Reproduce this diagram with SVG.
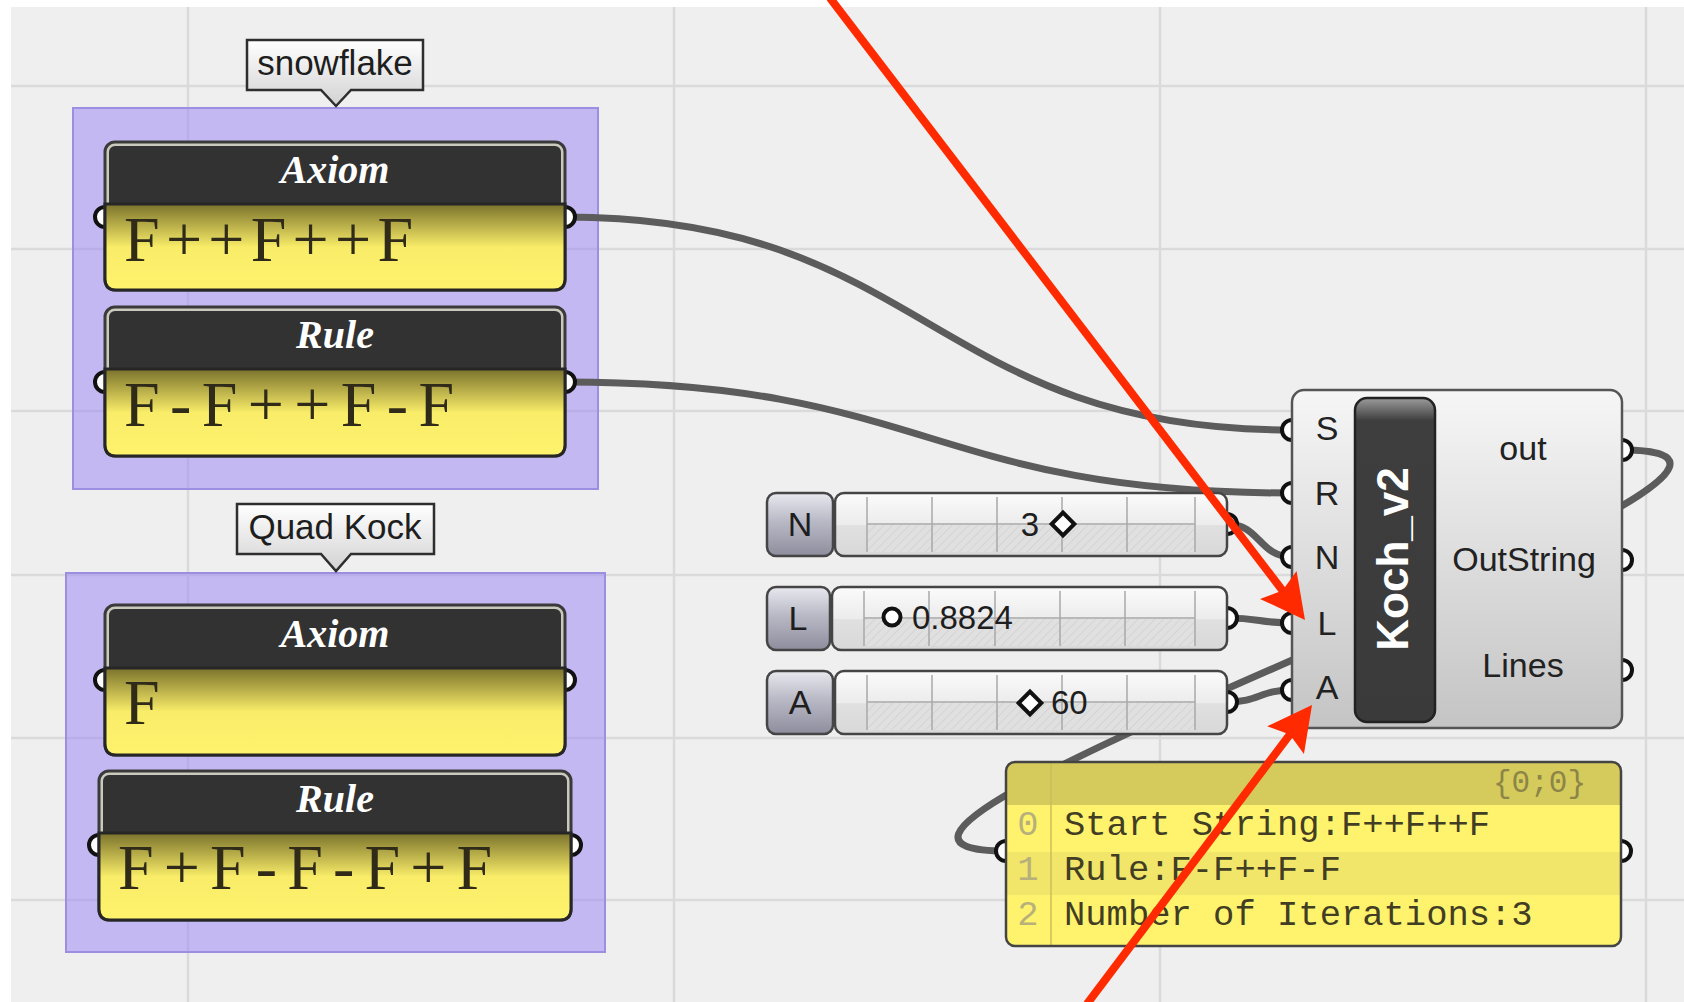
<svg xmlns="http://www.w3.org/2000/svg" width="1684" height="1002" viewBox="0 0 1684 1002">
<defs>
<style>
.grid{stroke:#dadada;stroke-width:2.5}
.wire{fill:none;stroke:#5c5c5c;stroke-width:7;stroke-linecap:round}
.grip{fill:#ffffff;stroke:#111111;stroke-width:4}
.red{fill:none;stroke:#ff2a00;stroke-width:8}
.sans{font-family:"Liberation Sans",Arial,sans-serif}
.serif{font-family:"Liberation Serif","Times New Roman",serif}
.mono{font-family:"Liberation Mono","Courier New",monospace}
.grp{fill:#a18bf6;fill-opacity:0.55;stroke:#9c8ee0;stroke-width:2}
.callout{fill:url(#calloutGrad);stroke:#2e2e2e;stroke-width:2.5}
.callout-t{font-size:35px;fill:#1e1e1e;text-anchor:middle}
.pframe{fill:#c9c9bd;stroke:#3a3a3a;stroke-width:3}
.phead{fill:#323232}
.pbody{fill:url(#yellowGrad);stroke:#262626;stroke-width:3}
.ptitle{font-size:40px;font-weight:bold;font-style:italic;fill:#ffffff;text-anchor:middle}
.pval{font-size:64px;fill:#2f2b18}
.slabel{fill:url(#labelGrad);stroke:#454545;stroke-width:2.5}
.strack{fill:url(#trackGrad);stroke:#454545;stroke-width:2.5}
.stick{stroke:#a8a8a8;stroke-width:1.5}
.sletter{font-size:34px;fill:#1e1e1e;text-anchor:middle}
.sval{font-size:33px;fill:#1e1e1e}
.knob{fill:#ffffff;stroke:#111111;stroke-width:4}
.cin{font-size:34px;fill:#222222;text-anchor:middle}
.cout{font-size:34px;fill:#222222;text-anchor:middle}
.prow{font-size:35.5px;fill:#423e24}
.pidx{font-size:35.5px;fill:#b7b07a;text-anchor:middle}
</style>
<linearGradient id="calloutGrad" x1="0" y1="0" x2="0" y2="1"><stop offset="0" stop-color="#ffffff"/><stop offset="1" stop-color="#d2d2d2"/></linearGradient>
<linearGradient id="yellowGrad" x1="0" y1="0" x2="0" y2="1"><stop offset="0" stop-color="#7a722c"/><stop offset="0.5" stop-color="#f8ec68"/><stop offset="1" stop-color="#fff36e"/></linearGradient>
<linearGradient id="labelGrad" x1="0" y1="0" x2="0" y2="1"><stop offset="0" stop-color="#e8e8ef"/><stop offset="0.45" stop-color="#b9b9c6"/><stop offset="1" stop-color="#8d8d9d"/></linearGradient>
<linearGradient id="trackGrad" x1="0" y1="0" x2="0" y2="1"><stop offset="0" stop-color="#fbfbfb"/><stop offset="0.5" stop-color="#ececec"/><stop offset="0.52" stop-color="#e0e0e0"/><stop offset="1" stop-color="#d8d8d8"/></linearGradient>
<linearGradient id="compGrad" x1="0" y1="0" x2="0" y2="1"><stop offset="0" stop-color="#f6f6f6"/><stop offset="1" stop-color="#c4c4c4"/></linearGradient>
<linearGradient id="capGrad" x1="0" y1="0" x2="0" y2="1"><stop offset="0" stop-color="#9c9c9c"/><stop offset="0.07" stop-color="#3e3e3e"/><stop offset="1" stop-color="#3a3a3a"/></linearGradient>
<pattern id="hatch" width="6" height="6" patternUnits="userSpaceOnUse" patternTransform="rotate(45)"><rect width="6" height="6" fill="#e0e0e0"/><line x1="0" y1="0" x2="0" y2="6" stroke="#d4d4d4" stroke-width="2"/></pattern>
<clipPath id="outPanelClip"><rect x="1006" y="762" width="615" height="184" rx="9"/></clipPath>
<marker id="redHead" markerUnits="userSpaceOnUse" markerWidth="50" markerHeight="50" viewBox="0 0 50 50" refX="36" refY="25" orient="auto"><path d="M48,25 L4,2 L11,25 L4,48 Z" fill="#ff2a00"/></marker>
</defs>

<rect width="1684" height="1002" fill="#ffffff"/>
<rect x="11" y="7" width="1673" height="995" fill="#efefef"/>
<g id="grid">
<line class="grid" x1="188" y1="7" x2="188" y2="1002"/>
<line class="grid" x1="674" y1="7" x2="674" y2="1002"/>
<line class="grid" x1="1160" y1="7" x2="1160" y2="1002"/>
<line class="grid" x1="1646" y1="7" x2="1646" y2="1002"/>
<line class="grid" x1="11" y1="86" x2="1684" y2="86"/>
<line class="grid" x1="11" y1="249" x2="1684" y2="249"/>
<line class="grid" x1="11" y1="411" x2="1684" y2="411"/>
<line class="grid" x1="11" y1="575" x2="1684" y2="575"/>
<line class="grid" x1="11" y1="738" x2="1684" y2="738"/>
<line class="grid" x1="11" y1="900" x2="1684" y2="900"/>
</g>

<g id="group-snowflake"><rect class="grp" x="73" y="108" width="525" height="381"/></g>
<g id="group-quadkock"><rect class="grp" x="66" y="573" width="539" height="379"/></g>

<g id="connectors">
<path class="wire" d="M565,217 C928,217 929,430 1292,430"/>
<path class="wire" d="M565,382 C928,382 929,493 1292,493"/>
<path class="wire" d="M1227,524 C1260,524 1259,557 1292,557"/>
<path class="wire" d="M1227,618 C1260,618 1259,623 1292,623"/>
<path class="wire" d="M1227,702 C1260,702 1259,690 1292,690"/>
<path class="wire" d="M1622,450 C1922,450 706,851 1006,851"/>
</g>

<g id="callout-snowflake">
<path class="callout" d="M247,40 H423 V90 H351 L336,106 L321,90 H247 Z"/>
<text class="sans callout-t" x="335" y="75">snowflake</text>
</g>
<g id="callout-quadkock">
<path class="callout" d="M237,504 H434 V554 H351 L336,571 L321,554 H237 Z"/>
<text class="sans callout-t" x="335" y="539">Quad Kock</text>
</g>

<g id="axiom-1">
<circle class="grip" cx="105" cy="217" r="10"/><circle class="grip" cx="565" cy="217" r="10"/>
<rect class="pframe" x="105" y="142" width="460" height="148" rx="10"/>
<rect class="phead" x="109" y="146" width="452" height="62" rx="6"/>
<path class="pbody" d="M105,204 H565 V279 Q565,290 554,290 H116 Q105,290 105,279 Z"/>
<text class="serif ptitle" x="335" y="183">Axiom</text>
<text class="serif pval" x="124" y="261" textLength="289" lengthAdjust="spacing">F++F++F</text>
</g>
<g id="rule-1">
<circle class="grip" cx="105" cy="382" r="10"/><circle class="grip" cx="565" cy="382" r="10"/>
<rect class="pframe" x="105" y="307" width="460" height="149" rx="10"/>
<rect class="phead" x="109" y="311" width="452" height="62" rx="6"/>
<path class="pbody" d="M105,369 H565 V445 Q565,456 554,456 H116 Q105,456 105,445 Z"/>
<text class="serif ptitle" x="335" y="348">Rule</text>
<text class="serif pval" x="124" y="426" textLength="330" lengthAdjust="spacing">F-F++F-F</text>
</g>
<g id="axiom-2">
<circle class="grip" cx="105" cy="680" r="10"/><circle class="grip" cx="565" cy="680" r="10"/>
<rect class="pframe" x="105" y="605" width="460" height="150" rx="10"/>
<rect class="phead" x="109" y="609" width="452" height="63" rx="6"/>
<path class="pbody" d="M105,668 H565 V744 Q565,755 554,755 H116 Q105,755 105,744 Z"/>
<text class="serif ptitle" x="335" y="647">Axiom</text>
<text class="serif pval" x="124" y="724">F</text>
</g>
<g id="rule-2">
<circle class="grip" cx="99" cy="845" r="10"/><circle class="grip" cx="571" cy="845" r="10"/>
<rect class="pframe" x="99" y="771" width="472" height="149" rx="10"/>
<rect class="phead" x="103" y="775" width="464" height="62" rx="6"/>
<path class="pbody" d="M99,833 H571 V909 Q571,920 560,920 H110 Q99,920 99,909 Z"/>
<text class="serif ptitle" x="335" y="812">Rule</text>
<text class="serif pval" x="118" y="889" textLength="374" lengthAdjust="spacing">F+F-F-F+F</text>
</g>

<g id="slider-n">
<circle class="grip" cx="1227" cy="524" r="10"/>
<rect class="strack" x="835" y="493" width="392" height="63" rx="9"/>
<rect x="867" y="525" width="328" height="27" fill="url(#hatch)"/>
<line class="stick" x1="867" y1="524" x2="1195" y2="524"/>
<line class="stick" x1="867" y1="497" x2="867" y2="552"/><line class="stick" x1="932" y1="497" x2="932" y2="552"/><line class="stick" x1="997" y1="497" x2="997" y2="552"/><line class="stick" x1="1062" y1="497" x2="1062" y2="552"/><line class="stick" x1="1127" y1="497" x2="1127" y2="552"/><line class="stick" x1="1195" y1="497" x2="1195" y2="552"/>
<rect class="slabel" x="767" y="493" width="66" height="63" rx="9"/>
<text class="sans sletter" x="800" y="536">N</text>
<text class="sans sval" x="1030" y="536" text-anchor="middle">3</text>
<rect class="knob" x="1055" y="516" width="16" height="16" transform="rotate(45 1063 524)"/>
</g>
<g id="slider-l">
<circle class="grip" cx="1227" cy="618" r="10"/>
<rect class="strack" x="832" y="587" width="395" height="63" rx="9"/>
<rect x="864" y="619" width="331" height="27" fill="url(#hatch)"/>
<line class="stick" x1="864" y1="618" x2="1195" y2="618"/>
<line class="stick" x1="864" y1="591" x2="864" y2="646"/><line class="stick" x1="929" y1="591" x2="929" y2="646"/><line class="stick" x1="995" y1="591" x2="995" y2="646"/><line class="stick" x1="1060" y1="591" x2="1060" y2="646"/><line class="stick" x1="1125" y1="591" x2="1125" y2="646"/><line class="stick" x1="1195" y1="591" x2="1195" y2="646"/>
<rect class="slabel" x="767" y="587" width="63" height="63" rx="9"/>
<text class="sans sletter" x="798" y="630">L</text>
<circle class="knob" cx="892" cy="617" r="8.5"/>
<text class="sans sval" x="912" y="629">0.8824</text>
</g>
<g id="slider-a">
<circle class="grip" cx="1227" cy="702" r="10"/>
<rect class="strack" x="835" y="671" width="392" height="63" rx="9"/>
<rect x="867" y="703" width="328" height="27" fill="url(#hatch)"/>
<line class="stick" x1="867" y1="702" x2="1195" y2="702"/>
<line class="stick" x1="867" y1="675" x2="867" y2="730"/><line class="stick" x1="932" y1="675" x2="932" y2="730"/><line class="stick" x1="997" y1="675" x2="997" y2="730"/><line class="stick" x1="1062" y1="675" x2="1062" y2="730"/><line class="stick" x1="1127" y1="675" x2="1127" y2="730"/><line class="stick" x1="1195" y1="675" x2="1195" y2="730"/>
<rect class="slabel" x="767" y="671" width="66" height="63" rx="9"/>
<text class="sans sletter" x="800" y="714">A</text>
<rect class="knob" x="1022" y="695" width="16" height="16" transform="rotate(45 1030 703)"/>
<text class="sans sval" x="1051" y="714">60</text>
</g>

<g id="koch-v2">
<circle class="grip" cx="1292" cy="430" r="10"/><circle class="grip" cx="1292" cy="493" r="10"/><circle class="grip" cx="1292" cy="557" r="10"/><circle class="grip" cx="1292" cy="623" r="10"/><circle class="grip" cx="1292" cy="690" r="10"/>
<circle class="grip" cx="1622" cy="450" r="10"/><circle class="grip" cx="1622" cy="560" r="10"/><circle class="grip" cx="1622" cy="670" r="10"/>
<rect x="1292" y="390" width="330" height="338" rx="12" fill="url(#compGrad)" stroke="#555555" stroke-width="2.5"/>
<rect x="1355" y="398" width="80" height="324" rx="12" fill="url(#capGrad)" stroke="#222222" stroke-width="2.5"/>
<text class="sans" transform="translate(1408,559) rotate(-90)" text-anchor="middle" font-size="44" font-weight="bold" fill="#ffffff">Koch_v2</text>
<text class="sans cin" x="1327" y="440">S</text>
<text class="sans cin" x="1327" y="505">R</text>
<text class="sans cin" x="1327" y="569">N</text>
<text class="sans cin" x="1327" y="635">L</text>
<text class="sans cin" x="1327" y="699">A</text>
<text class="sans cout" x="1523" y="460">out</text>
<text class="sans cout" x="1524" y="571">OutString</text>
<text class="sans cout" x="1523" y="677">Lines</text>
</g>

<g id="panel-output">
<circle class="grip" cx="1006" cy="851" r="10"/><circle class="grip" cx="1621" cy="851" r="10"/>
<rect x="1006" y="762" width="615" height="184" rx="9" fill="#fff36e"/>
<g clip-path="url(#outPanelClip)">
<rect x="1006" y="762" width="615" height="43" fill="#d5ca5c"/>
<rect x="1006" y="852" width="615" height="43" fill="#f1e56a"/>
<line x1="1051" y1="762" x2="1051" y2="946" stroke="#c9bf5c" stroke-width="1.5"/>
</g>
<rect x="1006" y="762" width="615" height="184" rx="9" fill="none" stroke="#444444" stroke-width="2.5"/>
<text class="mono" x="1586" y="792" text-anchor="end" font-size="31" fill="#8c8548">{0;0}</text>
<text class="mono pidx" x="1028" y="835">0</text>
<text class="mono pidx" x="1028" y="880">1</text>
<text class="mono pidx" x="1028" y="925">2</text>
<text class="mono prow" x="1064" y="835">Start String:F++F++F</text>
<text class="mono prow" x="1064" y="880">Rule:F-F++F-F</text>
<text class="mono prow" x="1064" y="925">Number of Iterations:3</text>
</g>

<g id="annotation-arrows">
<path class="red" d="M830,-2 L1297.7,610.4" marker-end="url(#redHead)"/>
<path class="red" d="M1087,1004 L1304.8,714.6" marker-end="url(#redHead)"/>
</g>
</svg>
